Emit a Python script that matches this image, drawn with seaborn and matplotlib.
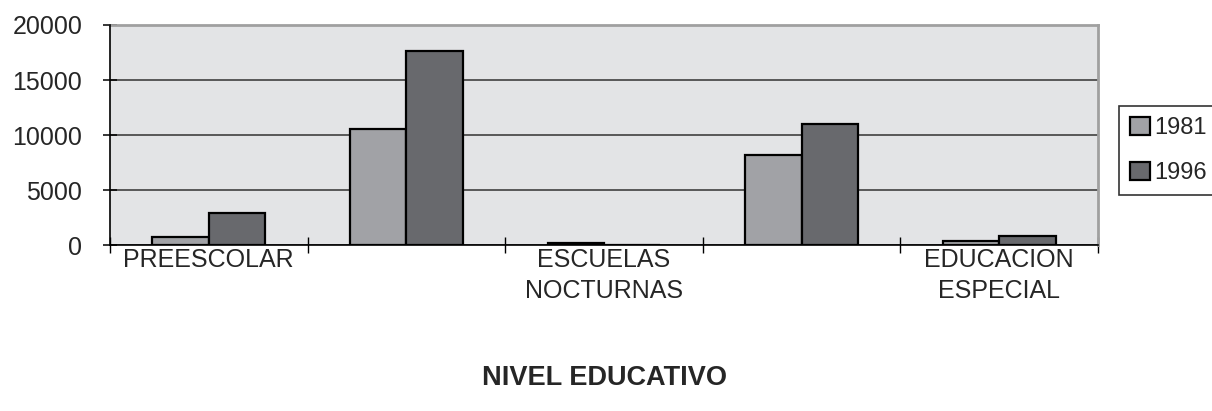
import matplotlib
matplotlib.use("Agg")
import matplotlib.pyplot as plt
import seaborn as sns
import pandas as pd
import numpy as np

categories = ["PREESCOLAR", "PRIMARIA", "ESCUELAS\nNOCTURNAS", "MEDIA", "EDUCACION\nESPECIAL"]
tick_labels = ["PREESCOLAR", "", "ESCUELAS\nNOCTURNAS", "", "EDUCACION\nESPECIAL"]
years = ["1981", "1996"]
values_1981 = [750, 10550, 150, 8150, 400]
values_1996 = [2950, 17600, 0, 11000, 850]
y_ticks = [0, 5000, 10000, 15000, 20000]

df = pd.DataFrame({
    "categoria": categories * 2,
    "anio": [years[0]] * len(categories) + [years[1]] * len(categories),
    "valor": values_1981 + values_1996,
})

sns.set_theme(style="ticks")
plt.rcParams["font.family"] = ["Liberation Sans", "DejaVu Sans"]

fig = plt.figure(figsize=(12.12, 4.11), dpi=100)
ax = fig.add_axes([110 / 1212, 1 - 245 / 411, (1098 - 110) / 1212, 220 / 411])
ax.set_facecolor("#e3e4e6")

sns.barplot(data=df, x="categoria", y="valor", hue="anio", order=categories,
            hue_order=years, palette=["#a1a2a6", "#68696d"], width=2 / 3.5,
            edgecolor="black", linewidth=1.6, saturation=1, ax=ax, legend=True,
            zorder=3)

ax.set_ylim(0, 20000)
ax.set_xlim(-0.5, len(categories) - 0.5)
ax.set_yticks(y_ticks)
ax.set_yticklabels([str(t) for t in y_ticks], fontsize=18)
ax.yaxis.grid(True, color="#404040", linewidth=1.2, zorder=1)
ax.set_axisbelow(True)

ax.set_xticks(range(len(categories)))
ax.set_xticklabels(tick_labels, fontsize=18, linespacing=1.4)
ax.tick_params(axis="x", which="major", length=0, pad=2, bottom=True)
ax.set_xticks(np.arange(-0.5, len(categories), 1.0), minor=True)
ax.tick_params(axis="x", which="minor", direction="inout", length=11.5,
               width=1, color="black", bottom=True)
ax.tick_params(axis="y", which="major", direction="inout", length=10,
               width=1.1, color="black", pad=15, left=True)
ax.tick_params(axis="y", which="minor", left=False)

ax.set_ylabel("")
ax.set_xlabel("NIVEL EDUCATIVO", fontsize=19.5, fontweight="bold")
ax.xaxis.set_label_coords(0.5, (245 - 378) / 220)
ax.xaxis.label.set_va("center")

for s in ["left", "bottom"]:
    ax.spines[s].set_color("black")
    ax.spines[s].set_linewidth(1.2)
for s in ["top", "right"]:
    ax.spines[s].set_visible(True)
    ax.spines[s].set_color("#a0a0a0")
    ax.spines[s].set_linewidth(2)
ax.spines["left"].set_zorder(4)
ax.spines["bottom"].set_zorder(4)

leg = ax.legend(loc="upper left", bbox_to_anchor=(1119 / 1212, 1 - 106 / 411),
                bbox_transform=fig.transFigure, fontsize=17, frameon=True,
                fancybox=False, edgecolor="black", handlelength=0.85,
                handleheight=0.85, handletextpad=0.2, labelspacing=0.95,
                borderpad=0.45, borderaxespad=0)
leg.get_frame().set_linewidth(1.2)
for h in leg.legend_handles:
    h.set_edgecolor("black")
    h.set_linewidth(1.6)

fig.savefig("out.png", dpi=100)
